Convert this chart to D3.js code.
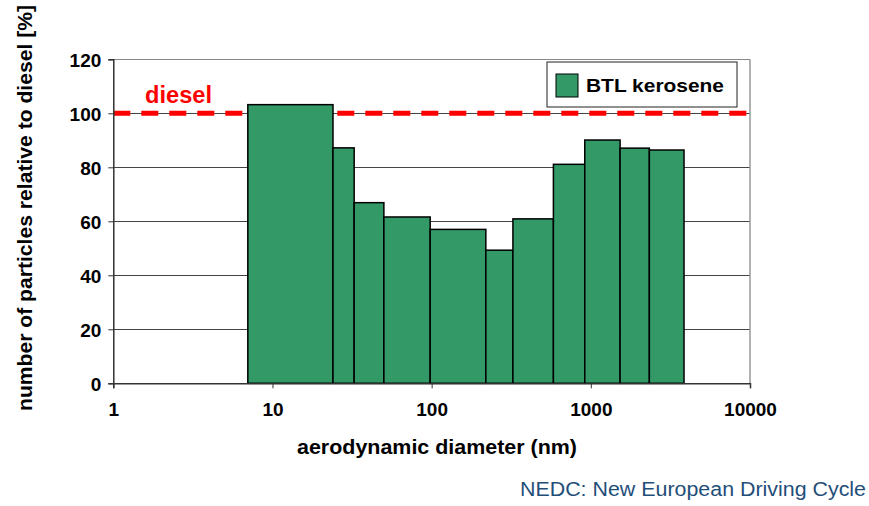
<!DOCTYPE html>
<html><head><meta charset="utf-8">
<script src="https://cdn.jsdelivr.net/npm/d3@7"></script>
<style>
body{margin:0;background:#fff;}
text{font-family:"Liberation Sans",Arial,sans-serif;}
</style></head>
<body>
<svg id="c" width="869" height="506"></svg>
<script>
// bin edges (nm) and values (% relative to diesel)
const binLower = [7.0, 24.0, 32.6, 50.1, 97.9, 219, 324, 582, 916, 1527, 2332];
const binUpper = [24.0, 32.6, 50.1, 97.9, 219, 324, 582, 916, 1527, 2332, 3850];
const btlKerosene = [103.2, 87.2, 66.9, 61.6, 57.0, 49.3, 60.9, 81.1, 90.1, 87.1, 86.4];
const dieselLevel = 100;
const xTicks = [1, 10, 100, 1000, 10000];
const yTicks = [0, 20, 40, 60, 80, 100, 120];

const svg = d3.select("#c");
const L = 113.3, R = 750, T = 59.3, B = 383.3;
const x = d3.scaleLog().domain([1, 10000]).range([L, R]);
const y = d3.scaleLinear().domain([0, 120]).range([B, T]);

// gridlines
svg.append("g").selectAll("line").data(yTicks.filter(d => d > 0)).join("line")
  .attr("x1", L).attr("x2", R).attr("y1", d => y(d)).attr("y2", d => y(d))
  .attr("stroke", d => d === 120 ? "#888" : "#444").attr("stroke-width", 1)
  .attr("shape-rendering", "crispEdges");
// right border
svg.append("line").attr("x1", R).attr("x2", R).attr("y1", T).attr("y2", B)
  .attr("stroke", "#999").attr("stroke-width", 1.5);

// diesel line
svg.append("line").attr("x1", L).attr("x2", R)
  .attr("y1", y(dieselLevel)).attr("y2", y(dieselLevel))
  .attr("stroke", "#ff0000").attr("stroke-width", 5).attr("stroke-dasharray", "17,11");
svg.append("text").attr("x", 145).attr("y", 103).text("diesel")
  .attr("fill", "#ff0000").attr("font-weight", "bold").attr("font-size", 23)
  .attr("textLength", 67).attr("lengthAdjust", "spacingAndGlyphs");

// bars
svg.append("g").selectAll("rect").data(btlKerosene).join("rect")
  .attr("x", (d, i) => x(binLower[i]))
  .attr("width", (d, i) => x(binUpper[i]) - x(binLower[i]))
  .attr("y", d => y(d)).attr("height", d => y(0) - y(d))
  .attr("fill", "#339966").attr("stroke", "#000").attr("stroke-width", 1.5);

// axes
const xAxis = svg.append("g").attr("transform", `translate(0,${B})`)
  .call(d3.axisBottom(x).tickValues(xTicks).tickFormat(d3.format("d")).tickSizeOuter(0).tickSize(5));
xAxis.select(".domain").attr("stroke", "#333").attr("stroke-width", 1.5);
xAxis.selectAll(".tick line").attr("stroke", "#333");
xAxis.selectAll("text").attr("font-size", 19).attr("font-weight", "bold").attr("fill", "#000")
  .attr("dy", null).attr("y", 416 - B);

const yAxis = svg.append("g").attr("transform", `translate(${L},0)`)
  .call(d3.axisLeft(y).tickValues(yTicks).tickSizeOuter(0).tickSize(5));
yAxis.select(".domain").attr("stroke", "#333").attr("stroke-width", 1.5);
yAxis.selectAll(".tick line").attr("stroke", "#333");
yAxis.selectAll("text").attr("font-size", 19).attr("font-weight", "bold").attr("fill", "#000")
  .attr("x", -12).attr("dy", "0.38em");

// axis titles
svg.append("text").attr("x", 437).attr("y", 454).attr("text-anchor", "middle")
  .attr("font-size", 21).attr("font-weight", "bold")
  .attr("textLength", 280).attr("lengthAdjust", "spacingAndGlyphs")
  .text("aerodynamic diameter (nm)");
svg.append("text").attr("transform", "translate(32,208) rotate(-90)").attr("text-anchor", "middle")
  .attr("font-size", 21).attr("font-weight", "bold")
  .attr("textLength", 406).attr("lengthAdjust", "spacingAndGlyphs")
  .text("number of particles relative to diesel [%]");

// legend
const lg = svg.append("g");
lg.append("rect").attr("x", 547).attr("y", 62).attr("width", 190).attr("height", 45)
  .attr("fill", "#fff").attr("stroke", "#222").attr("stroke-width", 1);
lg.append("rect").attr("x", 556).attr("y", 74).attr("width", 22).attr("height", 23)
  .attr("fill", "#339966").attr("stroke", "#000").attr("stroke-width", 1);
lg.append("text").attr("x", 586).attr("y", 92).attr("font-size", 18).attr("font-weight", "bold")
  .attr("textLength", 138).attr("lengthAdjust", "spacingAndGlyphs")
  .text("BTL kerosene");

// footer
svg.append("text").attr("x", 520).attr("y", 496)
  .attr("font-size", 20).attr("fill", "#1f4e79")
  .attr("textLength", 346).attr("lengthAdjust", "spacingAndGlyphs")
  .text("NEDC: New European Driving Cycle");
</script>
</body></html>
